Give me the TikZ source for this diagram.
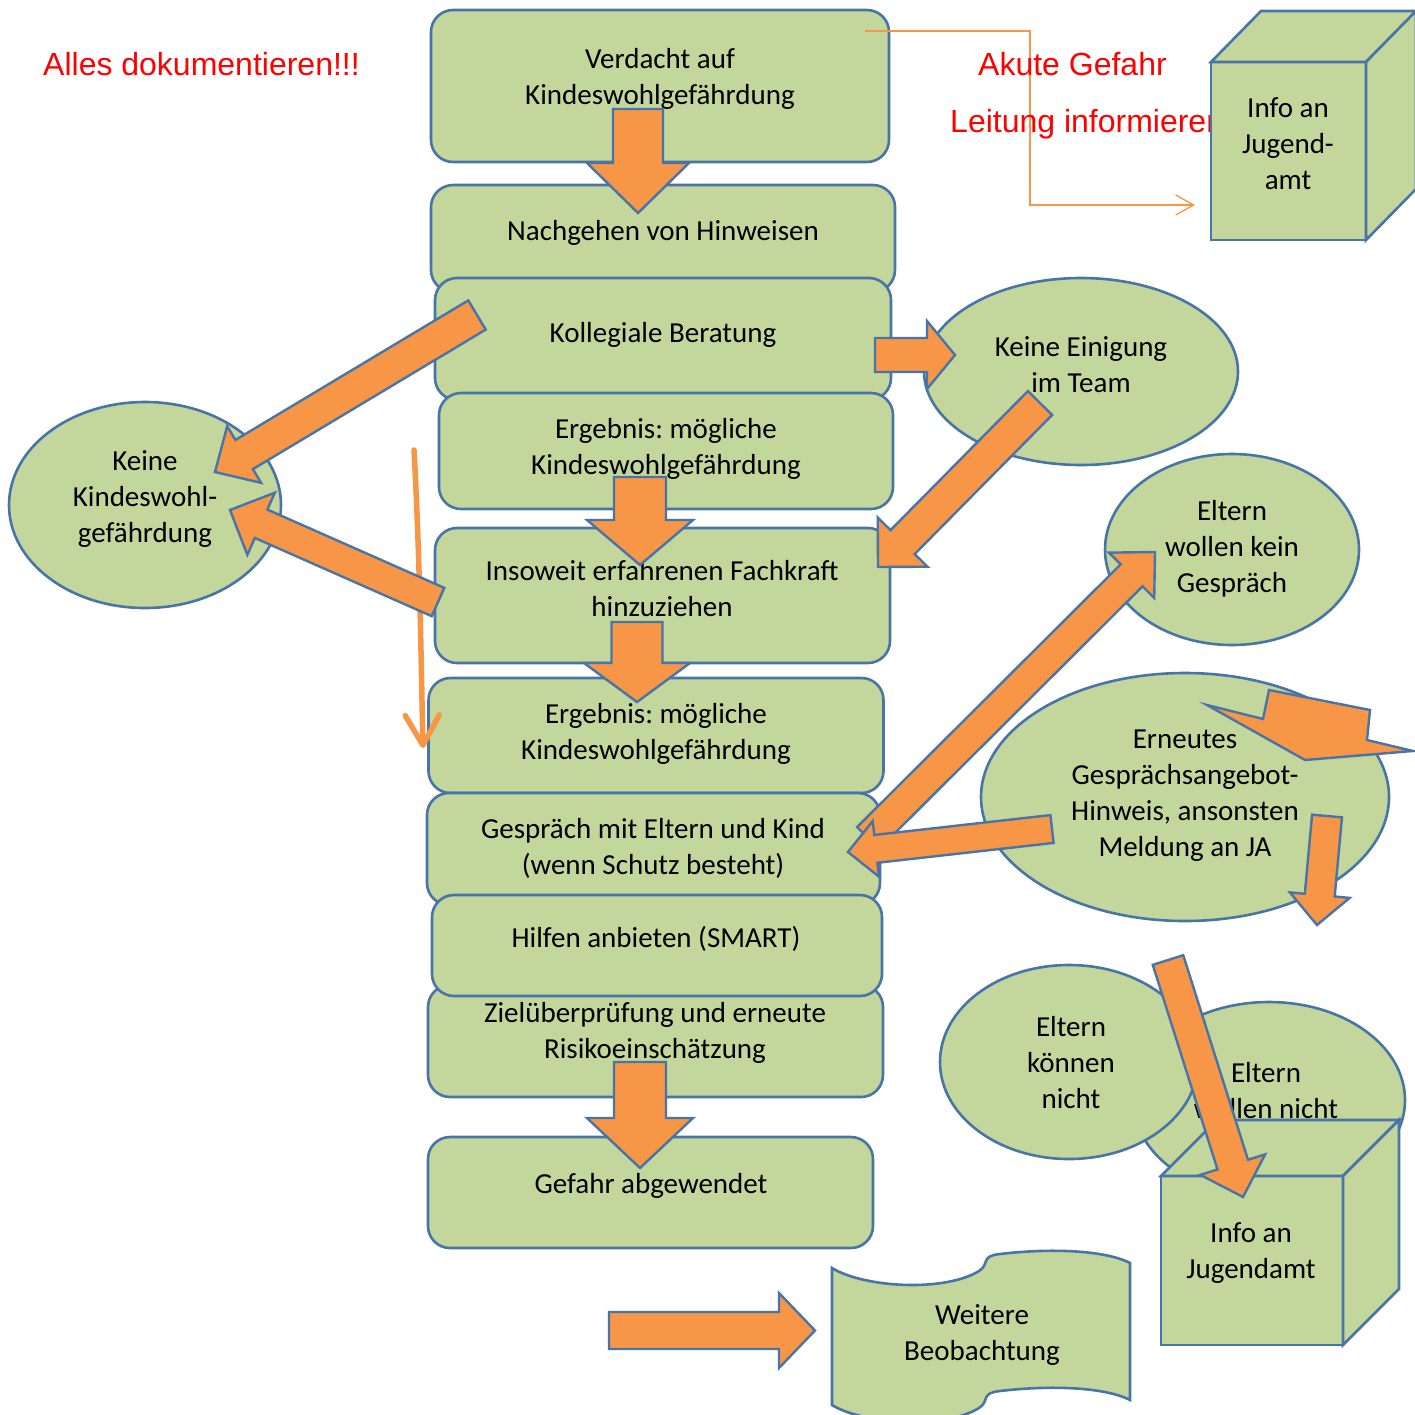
\documentclass[tikz,border=0pt]{standalone}
\usepackage{fontspec}
\setmainfont{Carlito}
\newfontfamily\redfont{Liberation Sans}
\usetikzlibrary{calc,arrows.meta,shapes.geometric}
\frenchspacing

\definecolor{boxgreen}{RGB}{195,214,155}
\definecolor{edgeblue}{RGB}{72,116,168}
\definecolor{arroworange}{RGB}{247,150,70}
\definecolor{alertred}{RGB}{255,0,0}

\tikzset{
  box/.style={draw=edgeblue, fill=boxgreen, line width=2.6pt, rounded corners=22pt,
              inner sep=0pt, outer sep=0pt},
  oval/.style={ellipse, draw=edgeblue, fill=boxgreen, line width=2.6pt,
               inner sep=0pt, outer sep=0pt},
  face/.style={draw=edgeblue, fill=boxgreen, line width=2.6pt, inner sep=0pt, outer sep=0pt},
  lbl/.style={font=\fontsize{29}{36}\selectfont, align=center, inner sep=0pt, text=black,
              yshift=-2.5pt},
  alert/.style={font=\redfont\fontsize{32}{38}\selectfont, text=alertred, inner sep=0pt,
                anchor=base west},
  barrow/.style={draw=edgeblue, fill=arroworange, line width=2.4pt, line join=miter},
  thinorange/.style={draw=arroworange, line width=1.3pt},
}

% block arrow: #1 tail, #2 tip, #3 half shaft width, #4 half head width, #5 head length
\newcommand\blockarrow[5]{%
  \coordinate (hbase) at ($(#2)!#5pt!(#1)$);
  \draw[barrow] ($(#1)!#3pt!90:(#2)$) -- ($(hbase)!#3pt!90:(#2)$)
    -- ($(hbase)!#4pt!90:(#2)$) -- (#2) -- ($(hbase)!#4pt!-90:(#2)$)
    -- ($(hbase)!#3pt!-90:(#2)$) -- ($(#1)!#3pt!-90:(#2)$) -- cycle;}

\begin{document}
\begin{tikzpicture}[x=1pt,y=-1pt]
\useasboundingbox (0,0) rectangle (1415,1414);

% ---- main column of process steps
\node[box, minimum width=458pt, minimum height=152pt] (verdacht) at (660,86) {};
\node[box, minimum width=464pt, minimum height=107pt] (nachgehen) at (663,238.5) {};
\node[box, minimum width=456pt, minimum height=122pt] (kollegial) at (663,339) {};
\node[box, minimum width=454pt, minimum height=116pt] (ergebnisA) at (666,451) {};
\node[box, minimum width=455pt, minimum height=135pt] (insoweit) at (662.5,595.5) {};
\node[box, minimum width=455pt, minimum height=115pt] (ergebnisB) at (656,735.5) {};
\node[box, minimum width=453pt, minimum height=112pt] (gespraech) at (653.5,849) {};
\node[box, minimum width=455pt, minimum height=112pt] (ziel) at (655.5,1041) {};
\node[box, minimum width=450pt, minimum height=101pt] (hilfen) at (657,945.5) {};
\node[box, minimum width=445pt, minimum height=111pt] (gefahr) at (650.5,1192.5) {};

\node[lbl] (tVerdacht) at (660,76) {Verdacht auf\\Kindeswohlgefährdung};
\node[lbl] (tNachgehen) at (663,230) {Nachgehen von Hinweisen};
\node[lbl] (tKollegial) at (663,332) {Kollegiale Beratung};
\node[lbl] (tErgebnisA) at (666,446) {Ergebnis: mögliche\\Kindeswohlgefährdung};
\node[lbl] (tInsoweit) at (662,586) {Insoweit erfahrenen Fachkraft\\hinzuziehen};
\node[lbl] (tErgebnisB) at (656,731) {Ergebnis: mögliche\\Kindeswohlgefährdung};
\node[lbl] (tGespraech) at (653,846) {Gespräch mit Eltern und Kind\\(wenn Schutz besteht)};
\node[lbl] (tHilfen) at (656,936) {Hilfen anbieten (SMART)};
\node[lbl] (tZiel) at (655,1030) {Zielüberprüfung und erneute\\Risikoeinschätzung};
\node[lbl] (tGefahr) at (651,1183) {Gefahr abgewendet};

% ---- side outcomes
\node[oval, minimum width=272pt, minimum height=206pt] (keineKwg) at (145,505) {};
\node[lbl] (tKeineKwg) at (145,497) {Keine\\Kindeswohl-\\gefährdung};
\node[oval, minimum width=314pt, minimum height=187pt] (einigung) at (1081,371.5) {};
\node[lbl] (tEinigung) at (1081,362) {Keine Einigung\\im Team};
\node[oval, minimum width=254pt, minimum height=191pt] (keinGespr) at (1232,549.5) {};
\node[lbl] (tKeinGespr) at (1232,546.5) {Eltern\\wollen kein\\Gespräch};
\node[oval, minimum width=408pt, minimum height=248pt] (erneut) at (1185,797) {};
\node[lbl] (tErneut) at (1185,793.5) {Erneutes\\Gesprächsangebot-\\Hinweis, ansonsten\\Meldung an JA};

% ---- hand-drawn documentation arrow
\coordinate (vTop) at (414,450);
\coordinate (vEnd) at (423,748);
\draw[arroworange, line width=5.5pt, line cap=round,
      -{Straight Barb[length=30pt,width=34pt,round]}]
  (vTop) .. controls (420,560) and (421,660) .. (vEnd);

% ---- block arrows between steps
\coordinate (a1s) at (638,109);   \coordinate (a1e) at (638,213);
\coordinate (a2s) at (640,477);   \coordinate (a2e) at (640,565);
\coordinate (a3s) at (637,622);   \coordinate (a3e) at (637,702);
\coordinate (a4s) at (640,1062);  \coordinate (a4e) at (640,1168);
\coordinate (r1s) at (875,355);   \coordinate (r1e) at (955,355);
\coordinate (d1s) at (1040,403);  \coordinate (d1e) at (878,567);
\coordinate (l1s) at (477,315);   \coordinate (l1e) at (215,472);
\coordinate (l2s) at (438,602);   \coordinate (l2e) at (230,510);
\coordinate (g1s) at (868,838);   \coordinate (g1e) at (1155,552);
\coordinate (g2s) at (1052,829);  \coordinate (g2e) at (848,852);
\coordinate (e1s) at (1327,816);  \coordinate (e1e) at (1317,925);

\blockarrow{a1s}{a1e}{25}{51}{50}
\blockarrow{a2s}{a2e}{26}{53}{45}
\blockarrow{a3s}{a3e}{25.5}{53}{39}
\blockarrow{a4s}{a4e}{26}{53}{50}
\blockarrow{r1s}{r1e}{17}{34}{28}
\blockarrow{d1s}{d1e}{17}{35}{35}
\blockarrow{l1s}{l1e}{17}{33}{34}
\blockarrow{l2s}{l2e}{15.5}{34}{34}
\blockarrow{g1s}{g1e}{15.5}{32}{33}
\blockarrow{g2s}{g2e}{14}{28}{28}
\blockarrow{e1s}{e1e}{15}{30}{30}

% bent arrow piece on the renewed offer
\draw[barrow] (1207,705) -- (1263,719) -- (1269,690) -- (1370,710) -- (1367,740)
  -- (1413,751) -- (1305,760) -- cycle;

% ---- parents cannot / will not, youth office
\node[oval, minimum width=272pt, minimum height=196pt] (wollenNicht) at (1269,1100) {};
\node[lbl] (tWollenNicht) at (1266,1088) {Eltern\\wollen nicht};
\node[oval, minimum width=258pt, minimum height=194pt] (koennen) at (1069,1062) {};
\node[lbl] (tKoennen) at (1071,1060.5) {Eltern\\können\\nicht};

\node[face, minimum width=182pt, minimum height=169pt] (jaB) at (1252,1260.5) {};
\draw[face, line join=miter] (jaB.north west) -- ++(56,-56) -- ++(182,0) -- (jaB.north east) -- cycle;
\draw[face, line join=miter] (jaB.north east) -- ++(56,-56) -- ++(0,169) -- (jaB.south east) -- cycle;
\node[lbl] (tJaB) at (1251,1250.5) {Info an\\Jugendamt};

\coordinate (j1s) at (1168,960);  \coordinate (j1e) at (1243,1197);
\blockarrow{j1s}{j1e}{16}{34}{34}

% ---- further observation
\draw[face] (832,1268) .. controls (865,1288) and (945,1292) .. (979,1271)
  .. controls (990,1264) and (980,1256) .. (1000,1254)
  .. controls (1050,1248) and (1105,1250) .. (1130,1263)
  -- (1130,1400)
  .. controls (1105,1387) and (1050,1385) .. (1000,1391)
  .. controls (980,1393) and (990,1401) .. (979,1408)
  .. controls (945,1429) and (865,1425) .. (832,1405) -- cycle;
\node[lbl] (tWeitere) at (982,1332) {Weitere\\Beobachtung};
\coordinate (w1s) at (609,1330.5);  \coordinate (w1e) at (815,1330.5);
\blockarrow{w1s}{w1e}{18.5}{37.5}{36}

% ---- acute danger path
\coordinate (akStart) at (865,31);
\coordinate (akEnd) at (1195,205);
\draw[thinorange, -{Straight Barb[length=18pt,width=20pt]}]
  (akStart) -| ($(akStart)!.5!(akEnd)$) |- (akEnd);

\node[alert] (dokument) at (43,75) {Alles dokumentieren!!!};
\node[alert] (akut) at (978,75) {Akute Gefahr};
\node[alert] (leitung) at (950,132) {Leitung informieren};

\node[face, minimum width=155pt, minimum height=178pt] (jaA) at (1288.5,151) {};
\draw[face, line join=miter] (jaA.north west) -- ++(50,-51) -- ++(155,0) -- (jaA.north east) -- cycle;
\draw[face, line join=miter] (jaA.north east) -- ++(50,-51) -- ++(0,178) -- (jaA.south east) -- cycle;
\node[lbl] (tJaA) at (1288,141) {Info an\\Jugend-\\amt};
\end{tikzpicture}
\end{document}
